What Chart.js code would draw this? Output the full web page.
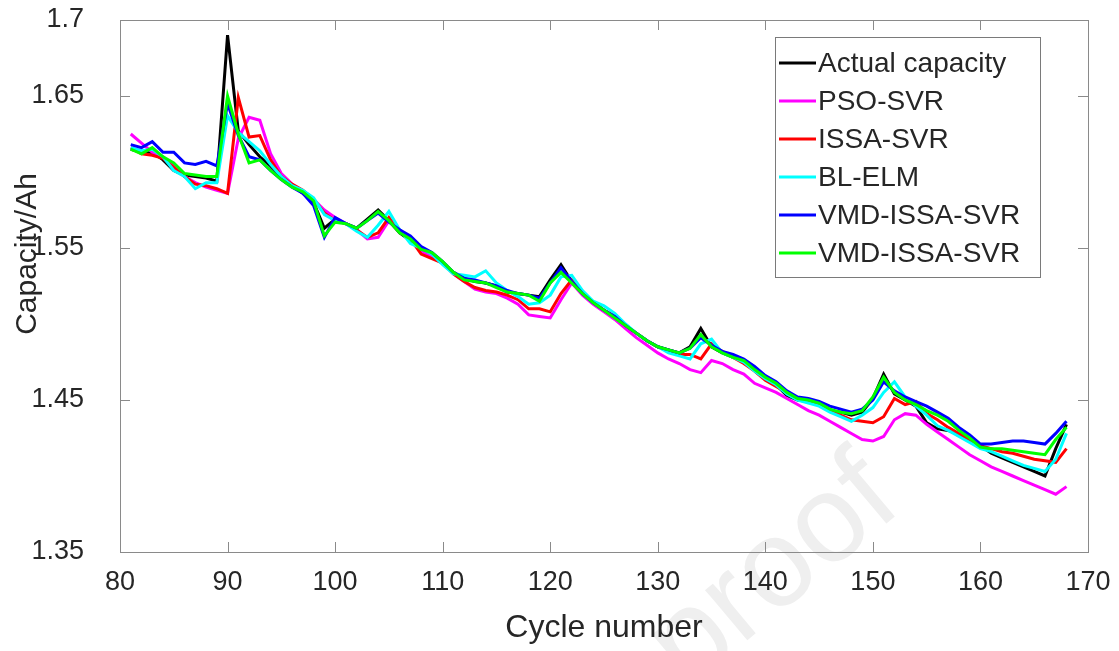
<!DOCTYPE html>
<html>
<head>
<meta charset="utf-8">
<title>Capacity prediction</title>
<script src="https://cdn.jsdelivr.net/npm/chart.js@4.4.0/dist/chart.umd.min.js"></script>
<style>
  html, body { margin: 0; padding: 0; background: #fff; }
  #wrap { width: 1119px; height: 651px; }
</style>
</head>
<body>
<div id="wrap"><canvas id="capChart" width="1119" height="651"></canvas></div>
<script>
// --- Data ---
const cycles = Array.from({ length: 88 }, (_, i) => 81 + i);

const actualCapacity = [
  1.615, 1.613, 1.613, 1.608, 1.601, 1.598, 1.597, 1.596, 1.594, 1.690,
  1.627, 1.618, 1.610, 1.604, 1.597, 1.591, 1.586, 1.580, 1.563, 1.569,
  1.566, 1.563, 1.569, 1.575, 1.568, 1.560, 1.555, 1.549, 1.546, 1.540,
  1.534, 1.530, 1.528, 1.527, 1.525, 1.521, 1.520, 1.519, 1.518, 1.529,
  1.539, 1.528, 1.520, 1.514, 1.509, 1.505, 1.499, 1.494, 1.489, 1.485,
  1.483, 1.481, 1.485, 1.497, 1.485, 1.481, 1.478, 1.476, 1.470, 1.464,
  1.460, 1.453, 1.450, 1.449, 1.447, 1.443, 1.442, 1.440, 1.442, 1.451,
  1.467, 1.454, 1.450, 1.446, 1.435, 1.431, 1.430, 1.427, 1.424, 1.420,
  1.415, 1.412, 1.409, 1.406, 1.403, 1.400, 1.418, 1.434
];

const psoSvr = [
  1.625, 1.619, 1.613, 1.610, 1.604, 1.597, 1.593, 1.590, 1.588, 1.586,
  1.622, 1.636, 1.634, 1.612, 1.599, 1.592, 1.587, 1.582, 1.575, 1.570,
  1.566, 1.562, 1.556, 1.557, 1.568, 1.562, 1.556, 1.548, 1.544, 1.540,
  1.533, 1.528, 1.523, 1.521, 1.520, 1.517, 1.513, 1.506, 1.505, 1.504,
  1.516, 1.527, 1.519, 1.513, 1.508, 1.503, 1.497, 1.491, 1.486, 1.481,
  1.477, 1.474, 1.470, 1.468, 1.476, 1.474, 1.470, 1.467, 1.461, 1.458,
  1.455, 1.451, 1.447, 1.443, 1.440, 1.436, 1.432, 1.428, 1.424, 1.423,
  1.426, 1.437, 1.441, 1.440, 1.434, 1.429, 1.424, 1.419, 1.414, 1.410,
  1.406, 1.403, 1.400, 1.397, 1.394, 1.391, 1.388, 1.393
];

const issaSvr = [
  1.616, 1.612, 1.611, 1.609, 1.603, 1.597, 1.592, 1.591, 1.589, 1.586,
  1.649, 1.623, 1.624, 1.608, 1.597, 1.592, 1.588, 1.582, 1.573, 1.568,
  1.566, 1.562, 1.557, 1.560, 1.570, 1.561, 1.556, 1.546, 1.543, 1.540,
  1.533, 1.528, 1.524, 1.522, 1.521, 1.519, 1.516, 1.510, 1.510, 1.508,
  1.520, 1.529, 1.521, 1.514, 1.509, 1.505, 1.499, 1.494, 1.489, 1.485,
  1.482, 1.480, 1.480, 1.477, 1.487, 1.482, 1.478, 1.474, 1.469, 1.463,
  1.459, 1.455, 1.451, 1.449, 1.447, 1.443, 1.440, 1.437, 1.436, 1.435,
  1.439, 1.451, 1.447, 1.449, 1.441, 1.437, 1.432, 1.428, 1.424, 1.420,
  1.418, 1.416, 1.415, 1.413, 1.411, 1.410, 1.409, 1.418
];

const blElm = [
  1.616, 1.614, 1.615, 1.610, 1.601, 1.597, 1.589, 1.593, 1.593, 1.637,
  1.626, 1.620, 1.614, 1.605, 1.597, 1.591, 1.588, 1.583, 1.572, 1.568,
  1.566, 1.561, 1.557, 1.565, 1.574, 1.562, 1.553, 1.550, 1.546, 1.539,
  1.533, 1.532, 1.531, 1.535, 1.527, 1.522, 1.518, 1.513, 1.514, 1.519,
  1.531, 1.532, 1.522, 1.515, 1.512, 1.507, 1.500, 1.494, 1.489, 1.485,
  1.481, 1.479, 1.477, 1.487, 1.490, 1.481, 1.478, 1.475, 1.469, 1.464,
  1.460, 1.454, 1.450, 1.448, 1.446, 1.442, 1.439, 1.436, 1.440, 1.445,
  1.455, 1.462, 1.452, 1.446, 1.440, 1.433, 1.430, 1.426, 1.422, 1.418,
  1.416, 1.413, 1.410, 1.407, 1.405, 1.403, 1.411, 1.428
];

const vmdIssaSvrBlue = [
  1.618, 1.616, 1.620, 1.613, 1.613, 1.606, 1.605, 1.607, 1.604, 1.645,
  1.624, 1.610, 1.608, 1.601, 1.595, 1.590, 1.586, 1.578, 1.557, 1.570,
  1.566, 1.563, 1.568, 1.573, 1.567, 1.562, 1.558, 1.551, 1.547, 1.541,
  1.534, 1.530, 1.529, 1.527, 1.525, 1.522, 1.520, 1.519, 1.517, 1.527,
  1.537, 1.528, 1.520, 1.514, 1.509, 1.505, 1.499, 1.494, 1.489, 1.485,
  1.483, 1.481, 1.484, 1.491, 1.486, 1.482, 1.480, 1.477, 1.472, 1.466,
  1.462, 1.456, 1.452, 1.451, 1.449, 1.446, 1.444, 1.442, 1.444, 1.450,
  1.462, 1.456, 1.452, 1.449, 1.446, 1.442, 1.438, 1.432, 1.427, 1.421,
  1.421, 1.422, 1.423, 1.423, 1.422, 1.421, 1.428, 1.436
];

const vmdIssaSvrGreen = [
  1.615, 1.612, 1.616, 1.610, 1.606, 1.599, 1.598, 1.597, 1.597, 1.650,
  1.625, 1.606, 1.608, 1.601, 1.595, 1.590, 1.587, 1.581, 1.558, 1.567,
  1.566, 1.563, 1.568, 1.574, 1.568, 1.560, 1.556, 1.549, 1.547, 1.541,
  1.534, 1.529, 1.528, 1.527, 1.524, 1.521, 1.520, 1.519, 1.515, 1.527,
  1.534, 1.527, 1.520, 1.514, 1.509, 1.504, 1.499, 1.494, 1.489, 1.485,
  1.483, 1.481, 1.484, 1.493, 1.485, 1.481, 1.478, 1.476, 1.470, 1.465,
  1.461, 1.455, 1.451, 1.450, 1.448, 1.444, 1.442, 1.441, 1.443, 1.452,
  1.465, 1.455, 1.450, 1.447, 1.443, 1.440, 1.436, 1.430, 1.425, 1.419,
  1.418, 1.418, 1.417, 1.416, 1.415, 1.414, 1.424, 1.432
];

const seriesNames = ['Actual capacity', 'PSO-SVR', 'ISSA-SVR', 'BL-ELM', 'VMD-ISSA-SVR', 'VMD-ISSA-SVR'];
const seriesColors = ['#000000', '#ff00ff', '#ff0000', '#00ffff', '#0000ff', '#00ff00'];
const seriesValues = [actualCapacity, psoSvr, issaSvr, blElm, vmdIssaSvrBlue, vmdIssaSvrGreen];

const xTicks = [80, 90, 100, 110, 120, 130, 140, 150, 160, 170];
const yTicks = [1.35, 1.45, 1.55, 1.65, 1.7];

const FONT = 'Arial, "Liberation Sans", Helvetica, sans-serif';
const AXIS_GRAY = '#8a8a8a';
const TEXT_COLOR = '#262626';

// --- Plugins: white page + watermark, MATLAB-style box, inward ticks, y label, legend ---
const pagePlugin = {
  id: 'page',
  beforeDraw(chart) {
    const ctx = chart.ctx;
    ctx.save();
    ctx.fillStyle = '#ffffff';
    ctx.fillRect(0, 0, chart.width, chart.height);
    // faint "proof" watermark
    ctx.translate(688, 690);
    ctx.rotate(-40 * Math.PI / 180);
    ctx.fillStyle = '#efefef';
    ctx.font = '124px ' + FONT;
    ctx.textBaseline = 'alphabetic';
    ctx.fillText('proof', 0, 0);
    ctx.restore();
  }
};

const framePlugin = {
  id: 'frame',
  afterDraw(chart) {
    const { ctx, chartArea: a, scales: { x, y } } = chart;
    const tick = 10;
    ctx.save();
    ctx.strokeStyle = AXIS_GRAY;
    ctx.lineWidth = 1;
    ctx.strokeRect(a.left + 0.5, a.top + 0.5, a.right - a.left, a.bottom - a.top);
    ctx.beginPath();
    xTicks.forEach(v => {
      const px = Math.round(x.getPixelForValue(v)) + 0.5;
      ctx.moveTo(px, a.bottom); ctx.lineTo(px, a.bottom - tick);
      ctx.moveTo(px, a.top); ctx.lineTo(px, a.top + tick);
    });
    yTicks.forEach(v => {
      const py = Math.round(y.getPixelForValue(v)) + 0.5;
      ctx.moveTo(a.left, py); ctx.lineTo(a.left + tick, py);
      ctx.moveTo(a.right, py); ctx.lineTo(a.right - tick, py);
    });
    ctx.stroke();

    // y axis label, sits a little above the axis middle as in the figure
    ctx.save();
    ctx.translate(28, 254);
    ctx.rotate(-Math.PI / 2);
    ctx.fillStyle = TEXT_COLOR;
    ctx.font = '30px ' + FONT;
    ctx.textAlign = 'center';
    ctx.textBaseline = 'middle';
    ctx.fillText('Capacity/Ah', 0, 0);
    ctx.restore();

    // legend
    const box = { left: 775, top: 37, width: 265, height: 240 };
    ctx.fillStyle = '#ffffff';
    ctx.fillRect(box.left, box.top, box.width, box.height);
    ctx.strokeStyle = '#7a7a7a';
    ctx.lineWidth = 1;
    ctx.strokeRect(box.left + 0.5, box.top + 0.5, box.width, box.height);
    ctx.font = '28px ' + FONT;
    ctx.textBaseline = 'middle';
    seriesNames.forEach((name, i) => {
      const cy = box.top + 26 + i * 38;
      ctx.strokeStyle = seriesColors[i];
      ctx.lineWidth = 3;
      ctx.beginPath();
      ctx.moveTo(box.left + 4, cy);
      ctx.lineTo(box.left + 41, cy);
      ctx.stroke();
      ctx.fillStyle = TEXT_COLOR;
      ctx.fillText(name, box.left + 43, cy + 1);
    });
    ctx.restore();
  }
};

// --- Chart ---
const datasets = seriesValues.map((values, i) => ({
  label: seriesNames[i],
  data: values.map((v, j) => ({ x: cycles[j], y: v })),
  borderColor: seriesColors[i],
  backgroundColor: seriesColors[i],
  borderWidth: 3,
  pointRadius: 0,
  tension: 0,
  fill: false,
  order: seriesValues.length - i
}));

new Chart(document.getElementById('capChart'), {
  type: 'line',
  data: { datasets },
  options: {
    responsive: false,
    animation: false,
    layout: { padding: { top: 20, right: 31, left: 0, bottom: 0 } },
    plugins: {
      legend: { display: false },
      tooltip: { enabled: false }
    },
    scales: {
      x: {
        type: 'linear',
        min: 80,
        max: 170,
        afterBuildTicks: scale => { scale.ticks = xTicks.map(v => ({ value: v })); },
        afterFit: scale => {
          scale.height = 99;
          scale.paddingLeft = 0;
          scale.paddingRight = 0;
        },
        grid: { display: false, drawTicks: false },
        border: { display: false },
        ticks: {
          padding: 14,
          color: TEXT_COLOR,
          font: { family: FONT, size: 27 },
          maxRotation: 0,
          callback: v => String(v)
        },
        title: {
          display: true,
          text: 'Cycle number',
          color: TEXT_COLOR,
          font: { family: FONT, size: 32 },
          padding: { top: 0, bottom: 4 }
        }
      },
      y: {
        type: 'linear',
        min: 1.35,
        max: 1.7,
        afterBuildTicks: scale => { scale.ticks = yTicks.map(v => ({ value: v })); },
        afterFit: scale => {
          scale.width = 120;
          scale.paddingTop = 0;
          scale.paddingBottom = 0;
        },
        grid: { display: false, drawTicks: false },
        border: { display: false },
        ticks: {
          padding: 36,
          color: TEXT_COLOR,
          font: { family: FONT, size: 27 },
          callback: v => String(Math.round(v * 100) / 100)
        },
        title: { display: false }
      }
    }
  },
  plugins: [pagePlugin, framePlugin]
});
</script>
</body>
</html>
